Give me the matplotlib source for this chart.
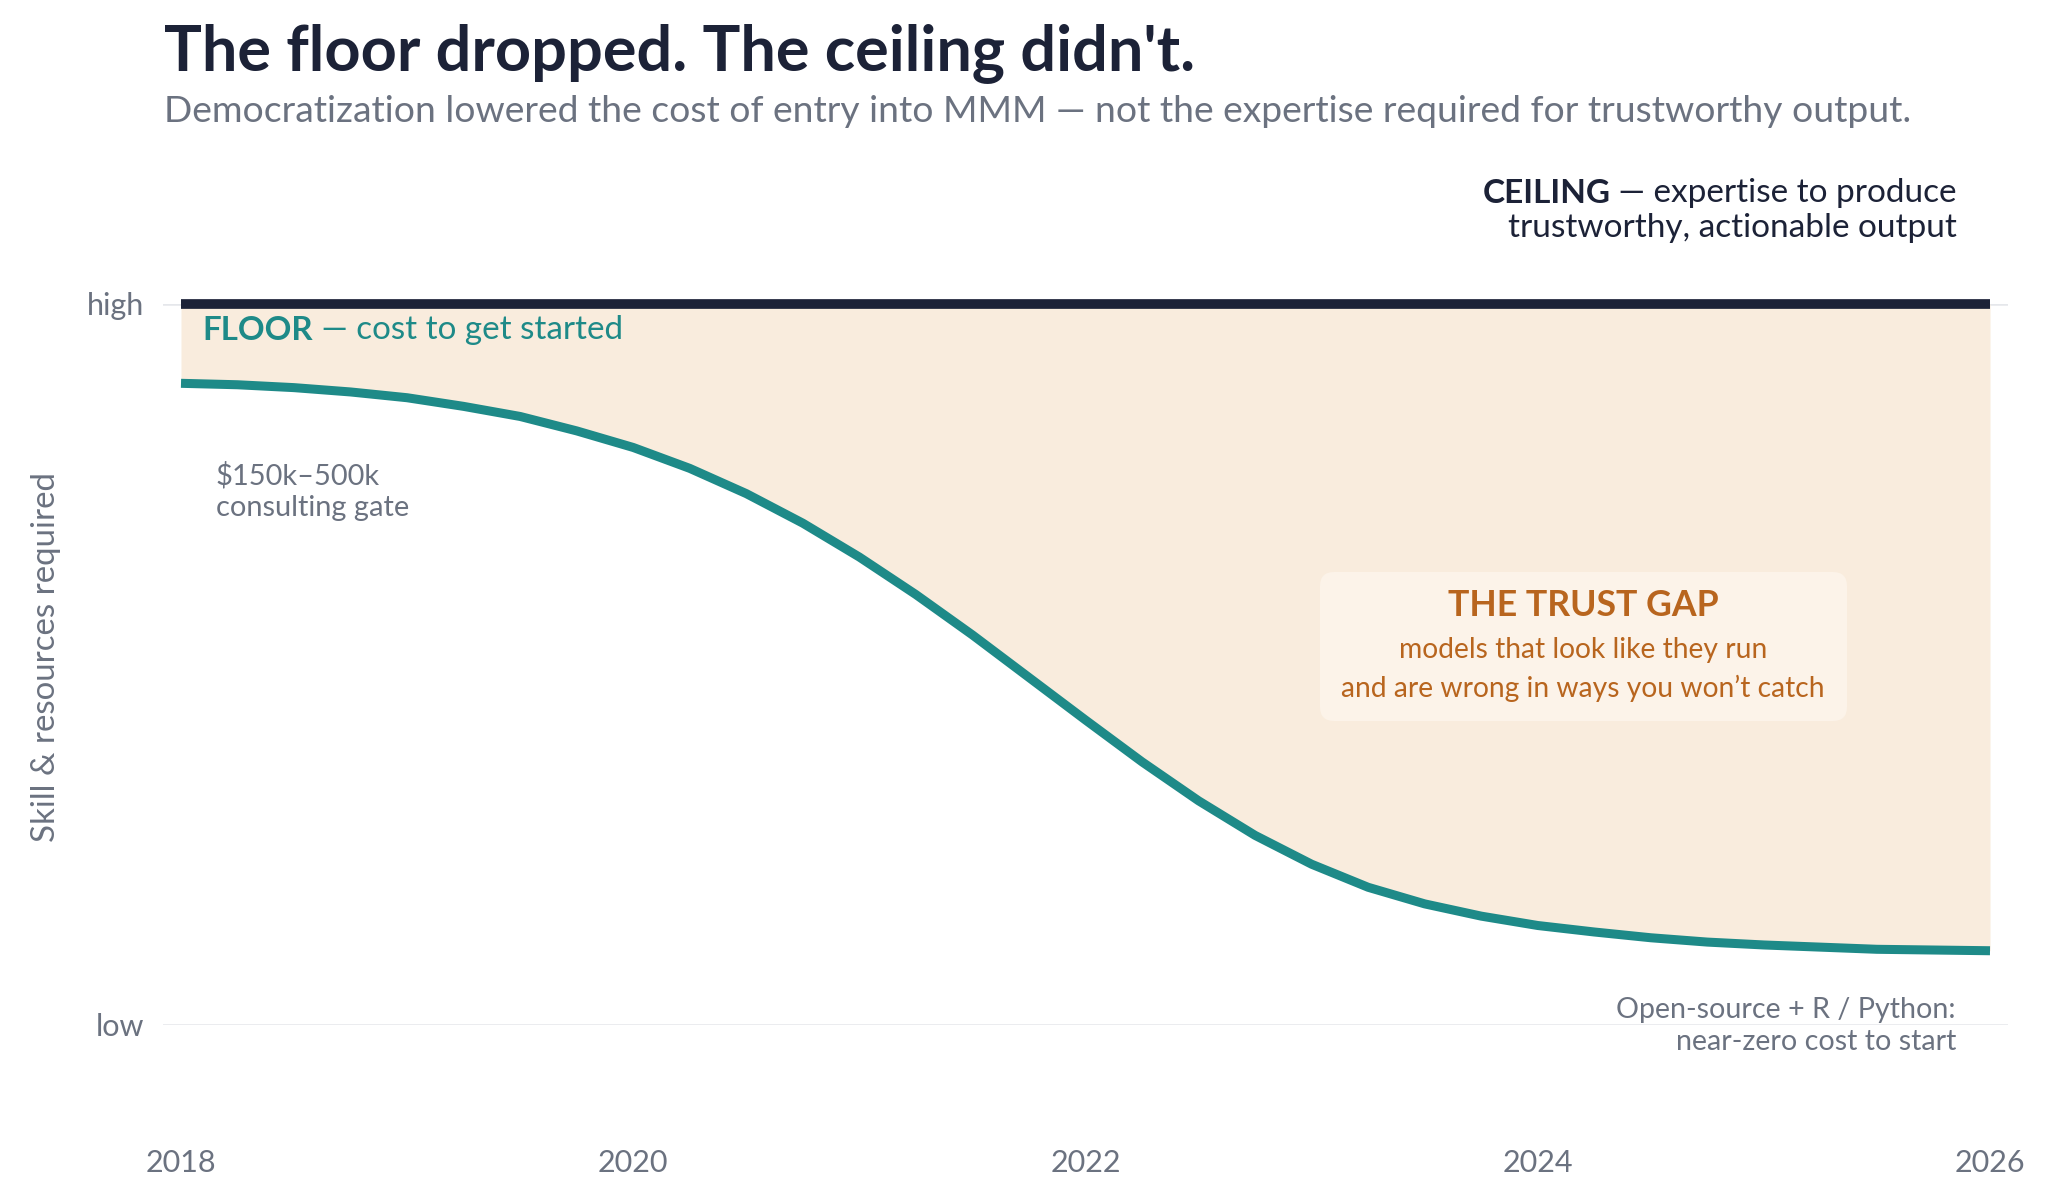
import matplotlib
matplotlib.use("Agg")
import matplotlib.pyplot as plt
from matplotlib.patches import FancyBboxPatch
from matplotlib.transforms import IdentityTransform

# floor curve (0 = low, 1 = high)
years = [2018.00, 2018.25, 2018.50, 2018.75, 2019.00, 2019.25, 2019.50, 2019.75,
         2020.00, 2020.25, 2020.50, 2020.75, 2021.00, 2021.25, 2021.50, 2021.75,
         2022.00, 2022.25, 2022.50, 2022.75, 2023.00, 2023.25, 2023.50, 2023.75,
         2024.00, 2024.25, 2024.50, 2024.75, 2025.00, 2025.25, 2025.50, 2025.75,
         2026.00]
floor = [0.890, 0.888, 0.884, 0.878, 0.870, 0.858, 0.844, 0.824,
         0.801, 0.772, 0.737, 0.696, 0.649, 0.597, 0.541, 0.482,
         0.423, 0.365, 0.311, 0.263, 0.223, 0.191, 0.168, 0.151,
         0.138, 0.129, 0.121, 0.115, 0.111, 0.108, 0.105, 0.104,
         0.103]
ceiling = [1.0] * len(years)

tick_years = [2018, 2020, 2022, 2024, 2026]
level_ticks = [0, 1]
level_labels = ["low", "high"]

NAVY = "#1c2237"
TEAL = "#1e8a88"
FILL = "#f9ecdd"
BOX = "#fcf3e9"
ORANGE = "#b8651e"
GRAY = "#6b7280"
GRID = "#e5e7eb"

plt.rcParams['font.family'] = ['Lato', 'DejaVu Sans']

W, H = 2048, 1200
fig = plt.figure(figsize=(W / 100, H / 100), dpi=100)


def fx(x):
    return x / W


def fy(y):
    return 1 - y / H


ax = fig.add_axes([fx(163), fy(1025), (2008 - 163) / W, (1025 - 304) / H])
ax.set_xlim(2018 - 18 / 226.1, 2026 + 18 / 226.1)
ax.set_ylim(0, 1)
for s in ax.spines.values():
    s.set_visible(False)

ax.set_xticks(tick_years)
ax.set_yticks(level_ticks)
ax.set_yticklabels(level_labels)
ax.tick_params(length=0, colors=GRAY, labelsize=22)
ax.tick_params(axis='y', pad=13.5)
ax.tick_params(axis='x', pad=106)
for lab in ax.get_xticklabels():
    lab.set_va('baseline')

ax.axhline(0, color=GRID, lw=1.8, zorder=0)
ax.axhline(1, color=GRID, lw=1.8, zorder=0)

ax.fill_between(years, floor, ceiling, color=FILL, lw=0, zorder=1)
ax.plot(years, floor, color=TEAL, lw=6.5, solid_capstyle='butt',
        solid_joinstyle='round', zorder=3, clip_on=False)
ax.plot([years[0], years[-1]], [ceiling[0], ceiling[-1]], color=NAVY, lw=7,
        solid_capstyle='butt', zorder=4, clip_on=False)

ax.set_ylabel("Skill & resources required", fontsize=23.8, color=GRAY,
              va='center')
ax.yaxis.set_label_coords(fx(46), fy(657), transform=fig.transFigure)

# titles
fig.text(fx(164), fy(70), "The floor dropped. The ceiling didn't.",
         fontsize=45.4, fontweight='bold', color=NAVY, va='baseline')
fig.text(fx(164), fy(122),
         "Democratization lowered the cost of entry into MMM \u2014 not the "
         "expertise required for trustworthy output.",
         fontsize=26.8, color=GRAY, va='baseline')

# ceiling label
c1 = fig.text(fx(1957), fy(202), " \u2014 expertise to produce", fontsize=24,
              color=NAVY, ha='right', va='baseline')
ax.annotate("CEILING", xy=(0, 0), xycoords=c1, ha='right', va='bottom',
            fontsize=24, fontweight='bold', color=NAVY, annotation_clip=False)
fig.text(fx(1957), fy(237), "trustworthy, actionable output", fontsize=24,
         color=NAVY, ha='right', va='baseline')

# floor label
f1 = fig.text(fx(202), fy(340), "FLOOR", fontsize=23.9, fontweight='bold',
              color=TEAL, va='baseline', zorder=5)
ax.annotate(" \u2014 cost to get started", xy=(1, 0), xycoords=f1, ha='left',
            va='bottom', fontsize=23.9, color=TEAL, annotation_clip=False)

fig.text(fx(216), fy(484), "$150k\u2013500k", fontsize=20.9, color=GRAY, va='baseline')
fig.text(fx(216), fy(516), "consulting gate", fontsize=20.9, color=GRAY, va='baseline')

fig.text(fx(1956), fy(1018), "Open-source + R / Python:", fontsize=20.6,
         color=GRAY, ha='right', va='baseline')
fig.text(fx(1956), fy(1050), "near-zero cost to start", fontsize=20.6,
         color=GRAY, ha='right', va='baseline')

# trust gap box
box = FancyBboxPatch((1320, H - 721), 1847 - 1320, 721 - 572,
                     boxstyle="round,pad=0,rounding_size=14",
                     transform=IdentityTransform(), fc=BOX, ec='none', zorder=2)
fig.patches.append(box)
box.set_figure(fig)
fig.text(fx(1583), fy(616), "THE TRUST GAP", fontsize=25.7, fontweight='bold',
         color=ORANGE, ha='center', va='baseline')
fig.text(fx(1583), fy(658), "models that look like they run", fontsize=20.3,
         color=ORANGE, ha='center', va='baseline')
fig.text(fx(1583), fy(697), "and are wrong in ways you won\u2019t catch",
         fontsize=20.3, color=ORANGE, ha='center', va='baseline')

fig.savefig("out.png", dpi=100, facecolor='white')
